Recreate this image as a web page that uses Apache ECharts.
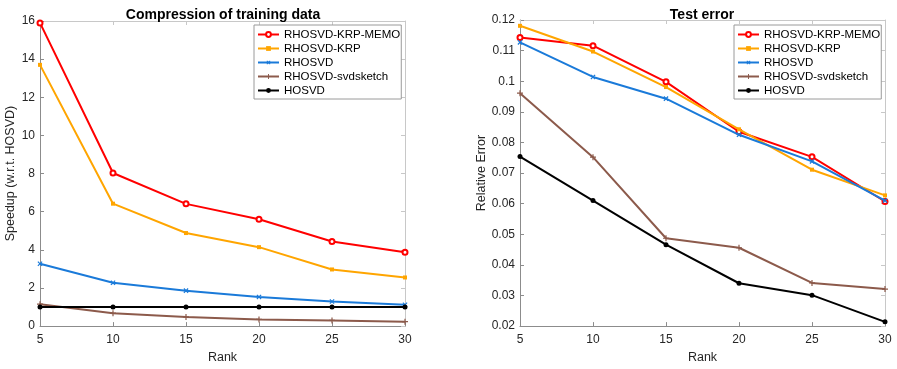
<!DOCTYPE html>
<html><head><meta charset="utf-8">
<script src="https://cdn.jsdelivr.net/npm/echarts@6/dist/echarts.min.js"></script>
<style>html,body{margin:0;padding:0;background:#fff}#c{width:897px;height:369px}</style>
</head><body><div id="c"></div>
<script>
const ranks = [5, 10, 15, 20, 25, 30];
const seriesNames = ['RHOSVD-KRP-MEMO', 'RHOSVD-KRP', 'RHOSVD', 'RHOSVD-svdsketch', 'HOSVD'];
const speedMemo = [15.9, 8.03, 6.41, 5.6, 4.44, 3.87];
const speedKrp = [13.7, 6.42, 4.88, 4.14, 2.97, 2.55];
const speedRho = [3.27, 2.27, 1.86, 1.53, 1.29, 1.12];
const speedSketch = [1.15, 0.68, 0.48, 0.35, 0.3, 0.23];
const speedHosvd = [1, 1, 1, 1, 1, 1];
const errMemo = [0.1143, 0.1116, 0.0998, 0.0835, 0.0753, 0.0607];
const errKrp = [0.1181, 0.1097, 0.0981, 0.0843, 0.0711, 0.0627];
const errRho = [0.1127, 0.1014, 0.0943, 0.0825, 0.0738, 0.061];
const errSketch = [0.0961, 0.0752, 0.0487, 0.0456, 0.0341, 0.0321];
const errHosvd = [0.0754, 0.061, 0.0466, 0.034, 0.0301, 0.0214];

const colors = ['#ff0000', '#ffa500', '#1a7ad9', '#8c5a4b', '#000000'];
const crossPath = 'path://M4,0H6V4H10V6H6V10H4V6H0V4H4Z';
const symbols = ['emptyCircle', 'rect', crossPath, crossPath, 'circle'];
const symbolSizes = [5, 4, 6, 6, 5];
const symbolRot = [0, 0, 45, 0, 0];
const FONT = '"Liberation Sans", Arial, sans-serif';
const axisCol = '#8c8c8c';
const textCol = '#262626';

function pairs(v) { return ranks.map((r, i) => [r, v[i]]); }

function mkSeries(vals, gi) {
  return vals.map((v, k) => ({
    name: seriesNames[k], type: 'line', xAxisIndex: gi * 2, yAxisIndex: gi * 2,
    data: pairs(v), symbol: symbols[k], symbolSize: symbolSizes[k], symbolRotate: symbolRot[k],
    showAllSymbol: true, animation: false, z: 3 + k,
    lineStyle: { width: 2, color: colors[k] },
    itemStyle: { color: colors[k], borderColor: colors[k], borderWidth: k === 0 ? 1.5 : 0 }
  }));
}

function xAxes(gi) {
  const base = { type: 'value', gridIndex: gi, min: 5, max: 30, interval: 5, splitLine: { show: false } };
  return [
    Object.assign({}, base, {
      position: 'bottom', name: 'Rank', nameLocation: 'middle', nameGap: 24,
      nameTextStyle: { fontFamily: FONT, fontSize: 12.5, color: textCol },
      axisLine: { show: true, lineStyle: { color: axisCol, width: 1 } },
      axisTick: { show: true, inside: true, length: 4, lineStyle: { color: axisCol } },
      axisLabel: { fontFamily: FONT, fontSize: 12, color: textCol, margin: 8 }
    }),
    Object.assign({}, base, {
      position: 'top',
      axisLine: { show: true, onZero: false, lineStyle: { color: '#c8c8c8', width: 1 } },
      axisTick: { show: true, inside: true, length: 4, lineStyle: { color: '#c8c8c8' } },
      axisLabel: { show: false }
    })
  ];
}

function yAxes(gi, min, max, interval, name, gap) {
  const base = { type: 'value', gridIndex: gi, min: min, max: max, interval: interval, splitLine: { show: false } };
  return [
    Object.assign({}, base, {
      position: 'left', name: name, nameLocation: 'middle', nameGap: gap,
      nameTextStyle: { fontFamily: FONT, fontSize: 12.5, color: textCol },
      axisLine: { show: true, onZero: false, lineStyle: { color: axisCol, width: 1 } },
      axisTick: { show: true, inside: true, length: 4, lineStyle: { color: axisCol } },
      axisLabel: { fontFamily: FONT, fontSize: 12, color: textCol, margin: 5,
        formatter: v => String(parseFloat(v.toFixed(4))) }
    }),
    Object.assign({}, base, {
      position: 'right',
      axisLine: { show: true, onZero: false, lineStyle: { color: '#c8c8c8', width: 1 } },
      axisTick: { show: true, inside: true, length: 4, lineStyle: { color: '#c8c8c8' } },
      axisLabel: { show: false }
    })
  ];
}

function legend(left) {
  return {
    left: left, top: 25, orient: 'vertical', data: seriesNames,
    backgroundColor: '#fff', borderColor: '#9a9a9a', borderWidth: 1,
    padding: [3, 1, 2, 3], itemGap: 1, itemWidth: 21, itemHeight: 6,
    textStyle: { fontFamily: FONT, fontSize: 11.5, color: '#000', lineHeight: 13 },
    selectedMode: false
  };
}

const chart = echarts.init(document.getElementById('c'), null, { renderer: 'canvas' });
chart.setOption({
  animation: false,
  backgroundColor: '#fff',
  title: [
    { text: 'Compression of training data', left: 218, top: 3, textAlign: 'center',
      textStyle: { fontFamily: FONT, fontSize: 14, fontWeight: 'bold', color: '#000' } },
    { text: 'Test error', left: 697, top: 3, textAlign: 'center',
      textStyle: { fontFamily: FONT, fontSize: 14, fontWeight: 'bold', color: '#000' } }
  ],
  grid: [
    { left: 40, right: 492, top: 21, bottom: 40 },
    { left: 520, right: 12, top: 20, bottom: 41 }
  ],
  xAxis: [...xAxes(0), ...xAxes(1)],
  yAxis: [...yAxes(0, 0, 16, 2, 'Speedup (w.r.t. HOSVD)', 23), ...yAxes(1, 0.02, 0.12, 0.01, 'Relative Error', 31)],
  legend: [legend(254), legend(734)],
  series: [
    ...mkSeries([speedMemo, speedKrp, speedRho, speedSketch, speedHosvd], 0),
    ...mkSeries([errMemo, errKrp, errRho, errSketch, errHosvd], 1)
  ]
});
</script></body></html>
